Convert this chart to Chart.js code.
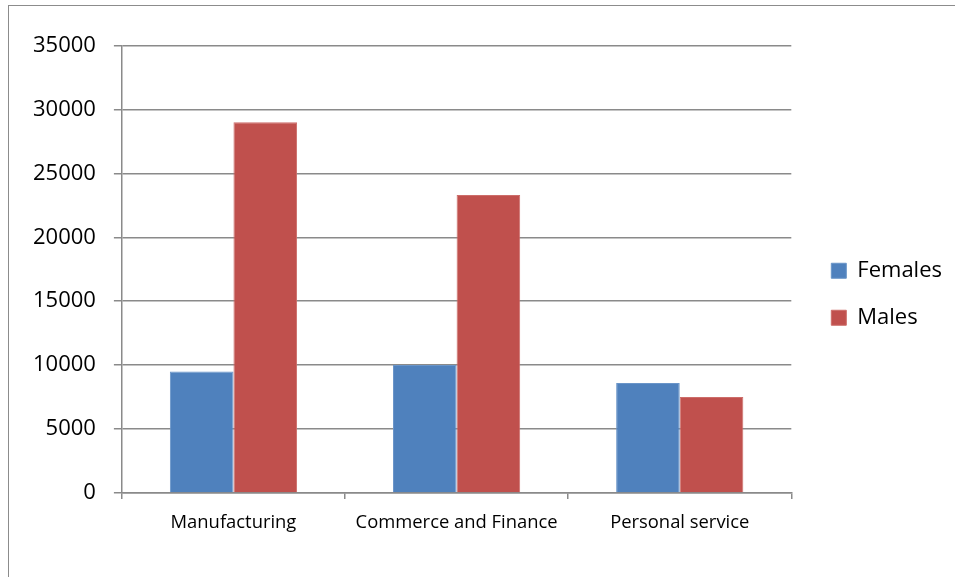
<!DOCTYPE html>
<html>
<head>
<meta charset="utf-8">
<script src="https://cdn.jsdelivr.net/npm/chart.js@4"></script>
<style>
  html, body { margin: 0; padding: 0; background: #fff; overflow: hidden; }
  #wrap { position: relative; width: 955px; height: 577px; }
  #frame { position: absolute; left: 8px; top: 5px; width: 1000px; height: 700px;
           border-top: 1.5px solid #8c8c8c; border-left: 1.5px solid #8c8c8c; }
  canvas { position: absolute; left: 0; top: 0; }
</style>
</head>
<body>
<div id="wrap">
  <div id="frame"></div>
  <canvas id="chart" width="955" height="577"></canvas>
</div>
<script>
// categories and the two series
const categories = ["Manufacturing", "Commerce and Finance", "Personal service"];
const females = [9500, 10000, 8600];
const males = [29000, 23300, 7500];
const yTicks = [0, 5000, 10000, 15000, 20000, 25000, 30000, 35000];

const gridGrey = '#8a8a8a';

// push the legend a bit away from the plot, like the original
const legendShift = {
  id: 'legendShift',
  afterLayout(chart) {
    const lg = chart.legend;
    if (!lg) return;
    lg.left += 15;
    lg.right += 15;
    lg.top -= 2;
    lg.bottom -= 2;
  }
};

const ctx = document.getElementById('chart').getContext('2d');

const chart = new Chart(ctx, {
  type: 'bar',
  data: {
    labels: categories,
    datasets: [
      {
        label: 'Females',
        data: females,
        backgroundColor: '#4F81BD',
        borderColor: '#6a95c9',
        borderWidth: 1
      },
      {
        label: 'Males',
        data: males,
        backgroundColor: '#C0504D',
        borderColor: '#cd6d6a',
        borderWidth: 1
      }
    ]
  },
  plugins: [legendShift],
  options: {
    responsive: false,
    animation: false,
    layout: {
      padding: { left: 15, right: 18, top: 45.5, bottom: 30 }
    },
    datasets: {
      bar: { categoryPercentage: 0.57, barPercentage: 1.0 }
    },
    scales: {
      x: {
        grid: {
          offset: true,
          drawOnChartArea: false,
          drawTicks: true,
          tickLength: 6,
          color: gridGrey,
          lineWidth: 1.5
        },
        border: { color: gridGrey, width: 1.5 },
        ticks: {
          color: '#000',
          padding: 13,
          font: { family: 'Open Sans', size: 18.4 }
        }
      },
      y: {
        min: 0,
        max: 35000,
        afterBuildTicks(axis) {
          axis.ticks = yTicks.map(v => ({ value: v }));
        },
        grid: {
          color: gridGrey,
          lineWidth: 1.5,
          tickLength: 8
        },
        border: { color: gridGrey, width: 1.5 },
        ticks: {
          color: '#000',
          padding: 18,
          font: { family: 'Open Sans', size: 22 },
          callback: v => String(v)
        }
      }
    },
    plugins: {
      legend: {
        position: 'right',
        labels: {
          color: '#000',
          boxWidth: 15,
          boxHeight: 15,
          padding: 25,
          font: { family: 'Open Sans', size: 22 }
        }
      },
      tooltip: { enabled: false }
    }
  }
});
</script>
</body>
</html>
